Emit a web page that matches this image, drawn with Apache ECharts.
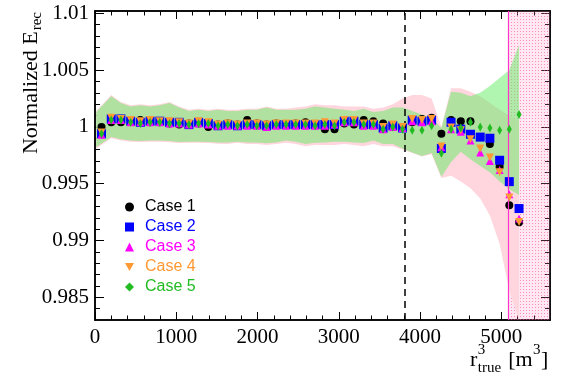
<!DOCTYPE html>
<html>
<head>
<meta charset="utf-8">
<script src="https://cdn.jsdelivr.net/npm/echarts@6/dist/echarts.min.js"></script>
<style>
  html, body { margin: 0; padding: 0; background: #fff; }
  #chart { width: 563px; height: 376px; }
</style>
</head>
<body>
<div id="chart"></div>
<script>
// r^3_true bin centres [m^3]
const xVals = [80, 200, 319, 439, 558, 678, 797, 917, 1036, 1156,
  1275, 1395, 1514, 1634, 1753, 1873, 1992, 2112, 2231, 2351,
  2470, 2590, 2709, 2829, 2948, 3068, 3187, 3307, 3426, 3546,
  3665, 3785, 3904, 4024, 4143, 4263, 4382, 4502, 4621, 4741,
  4860, 4980, 5099, 5219];

const case1 = [1.0000, 1.0004, 1.0004, 1.0006, 1.0006, 1.0004, 1.0004, 1.0003, 1.0002, 1.0003,
  1.0003, 1.0000, 1.0002, 1.0003, 1.0002, 1.0006, 1.0003, 1.0002, 1.0003, 1.0002,
  1.0003, 1.0004, 1.0002, 0.9998, 0.9998, 1.0003, 1.0002, 1.0006, 1.0005, 1.0003,
  1.0001, 1.0000, 1.0004, 1.0007, 1.0008, 0.9994, 1.0006, 1.0005, 1.0005, 0.9991,
  0.9985, 0.9965, 0.9931, 0.9916];
const case2 = [0.9994, 1.0007, 1.0007, 1.0005, 1.0004, 1.0005, 1.0005, 1.0004, 1.0004, 1.0002,
  1.0004, 1.0003, 1.0001, 1.0002, 1.0001, 1.0002, 1.0002, 1.0001, 1.0002, 1.0002,
  1.0002, 1.0002, 1.0002, 1.0002, 1.0002, 1.0005, 1.0005, 1.0002, 1.0002, 0.9999,
  1.0001, 0.9999, 1.0006, 1.0005, 1.0006, 0.9981, 1.0004, 0.9998, 0.99935, 0.9991,
  0.9990, 0.99706, 0.99518, 0.99281];
const case3 = [0.9993, 1.0006, 1.0006, 1.0004, 1.0004, 1.0004, 1.0004, 1.0003, 1.0003, 1.0002,
  1.0003, 1.0002, 1.0001, 1.0001, 1.0001, 1.0001, 1.0001, 1.0000, 1.0001, 1.0001,
  1.0001, 1.0001, 1.0001, 1.0001, 1.0002, 1.0004, 1.0004, 1.0001, 1.0001, 0.9998,
  1.0000, 0.9999, 1.0005, 1.0004, 1.0005, 0.9982, 0.9998, 0.99956, 0.9988, 0.99774,
  0.9970, 0.9962, 0.99407, 0.99193];
const case4 = [0.9995, 1.0008, 1.0007, 1.0006, 1.0005, 1.0006, 1.0005, 1.0005, 1.0004, 1.0003,
  1.0005, 1.0004, 1.0002, 1.0003, 1.0002, 1.0003, 1.0003, 1.0002, 1.0003, 1.0003,
  1.0003, 1.0003, 1.0003, 1.0004, 1.0003, 1.0006, 1.0006, 1.0003, 1.0003, 1.0000,
  1.0002, 1.0000, 1.0007, 1.0006, 1.0007, 0.99827, 0.99994, 0.9997, 0.9989, 0.9981,
  0.9973, 0.9960, 0.99378, 0.99163];
const case5 = [0.9994, 1.0006, 1.0006, 1.0004, 1.0003, 1.0004, 1.0004, 1.0003, 1.0003, 1.0002,
  1.0003, 1.0003, 1.0001, 1.0002, 1.0001, 1.0002, 1.0001, 1.0001, 1.0002, 1.0002,
  1.0002, 1.0002, 1.0001, 1.0002, 1.0001, 1.0004, 1.0004, 1.0002, 1.0002, 0.9998,
  1.0000, 0.9998, 0.9997, 0.9997, 1.0001, 0.99768, 0.9998, 0.9999, 1.0004, 1.0000,
  0.9999, 0.9997, 0.9998, 1.0011];

// uncertainty bands
const bandX = [15, 200, 319, 439, 558, 678, 797, 917, 1036, 1156,
  1275, 1395, 1514, 1634, 1753, 1873, 1992, 2112, 2231, 2351,
  2470, 2590, 2709, 2829, 2948, 3068, 3187, 3307, 3426, 3546,
  3665, 3785, 3904, 4024, 4143, 4263, 4382, 4502, 4621, 4741,
  4860, 4980, 5099, 5219];
const greenHi = [1.0013, 1.0027, 1.0021, 1.0018, 1.0019, 1.0018, 1.0019, 1.0021, 1.0017, 1.0014,
  1.0015, 1.0014, 1.0015, 1.0014, 1.0014, 1.0015, 1.0015, 1.0017, 1.0015, 1.0015,
  1.0015, 1.0016, 1.0018, 1.0017, 1.0016, 1.0015, 1.0014, 1.0016, 1.0013, 1.0014,
  1.0017, 1.0017, 1.0014, 1.0011, 1.0008, 0.9999, 1.0031, 1.0030, 1.0027, 1.0030,
  1.0036, 1.0043, 1.0050, 1.0072];
const greenLo = [0.9982, 0.9991, 0.9989, 0.9988, 0.99876, 0.9988, 0.9988, 0.99875, 0.99867, 0.9987,
  0.9987, 0.99867, 0.99862, 0.99862, 0.9987, 0.99862, 0.99862, 0.99855, 0.99862, 0.9988,
  0.9987, 0.9985, 0.9986, 0.99862, 0.9987, 0.9987, 0.99862, 0.99857, 0.9988, 0.9985,
  0.9985, 0.9981, 0.99774, 0.99744, 0.9977, 0.9956, 0.9969, 0.9978, 0.99715, 0.99656,
  0.9960, 0.9952, 0.9945, 0.9940];
const pinkHi = [1.0014, 1.0028, 1.0022, 1.0019, 1.0020, 1.0019, 1.0020, 1.0022, 1.0018, 1.0015,
  1.0016, 1.0015, 1.0016, 1.0015, 1.0015, 1.0016, 1.0016, 1.0018, 1.0016, 1.0016,
  1.0017, 1.0018, 1.0020, 1.0019, 1.0019, 1.0018, 1.0018, 1.0018, 1.0016, 1.0017,
  1.0020, 1.0025, 1.0028, 1.0028, 1.0025, 1.0000, 1.0034, 1.0034, 1.0031, 1.0027,
  1.0021, 1.0015, 1.0010, 1.0005];
const pinkLo = [0.9981, 0.9990, 0.9988, 0.9987, 0.99866, 0.9987, 0.9987, 0.99865, 0.99857, 0.9986,
  0.9986, 0.99857, 0.99852, 0.9985, 0.9986, 0.9985, 0.9985, 0.9984, 0.9985, 0.9986,
  0.9985, 0.9983, 0.9984, 0.9984, 0.9984, 0.9985, 0.9984, 0.9983, 0.9985, 0.9983,
  0.9983, 0.9980, 0.9977, 0.9974, 0.9976, 0.9955, 0.9957, 0.9952, 0.9946, 0.9937,
  0.9922, 0.9897, 0.9856, 0.9830];

const cutX = 3810;              // dashed line
const hatchFrom = 5090, hatchTo = 5600;

const names = ['Case 1', 'Case 2', 'Case 3', 'Case 4', 'Case 5'];
const colors = ['#000000', '#0000ff', '#ff00ff', '#ff9933', '#22bb22'];

const xMajor = [0, 1000, 2000, 3000, 4000, 5000];
const yMajor = [0.985, 0.99, 0.995, 1, 1.005, 1.01];
const xMinor = [];
for (let v = 200; v < 5600; v += 200) if (v % 1000) xMinor.push(v);
const yMinor = [];
for (let k = 984; k <= 1010; k++) if (k % 5) yMinor.push(k / 1000);

const serif = '"Liberation Serif", "Times New Roman", serif';

let chart = echarts.init(document.getElementById('chart'), null, { renderer: 'canvas' });

function zip(ys) {
  return xVals.map((x, i) => [x, ys[i]]);
}

function xAx(pos, ticks, len, labels) {
  return {
    type: 'value', position: pos, min: 0, max: 5600,
    axisLine: { show: true, onZero: false, lineStyle: { color: '#000', width: 1.5 } },
    axisTick: { show: true, inside: true, length: len, customValues: ticks, lineStyle: { color: '#000', width: 1 } },
    axisLabel: labels ? {
      show: true, customValues: ticks, margin: 7, color: '#000', fontFamily: serif, fontSize: 21,
      formatter: v => String(v)
    } : { show: false },
    splitLine: { show: false }
  };
}

function yAx(pos, ticks, len, labels) {
  return {
    type: 'value', position: pos, min: 0.983, max: 1.0102,
    axisLine: { show: true, onZero: false, lineStyle: { color: '#000', width: 1.5 } },
    axisTick: { show: true, inside: true, length: len, customValues: ticks, lineStyle: { color: '#000', width: 1 } },
    axisLabel: labels ? { show: true, customValues: ticks, margin: 6, color: '#000', fontFamily: serif, fontSize: 21 } : { show: false },
    splitLine: { show: false }
  };
}

function band(hi, lo, fill) {
  return {
    type: 'custom', silent: true, clip: true,
    data: [[bandX[0], hi[0]]],
    renderItem: function (params, api) {
      let pts = [];
      for (let i = 0; i < bandX.length; i++) pts.push(api.coord([bandX[i], hi[i]]));
      for (let i = bandX.length - 1; i >= 0; i--) pts.push(api.coord([bandX[i], lo[i]]));
      return { type: 'polygon', shape: { points: pts }, style: { fill: fill } };
    }
  };
}

// dotted pink fill for the excluded region
let pat = document.createElement('canvas');
pat.width = 3; pat.height = 3;
let pctx = pat.getContext('2d');
pctx.fillStyle = 'rgba(255,150,190,0.22)';
pctx.fillRect(0, 0, 3, 3);
pctx.fillStyle = 'rgba(255,70,150,0.55)';
pctx.fillRect(1, 1, 1, 1);

// text widths for the axis titles
let mctx = document.createElement('canvas').getContext('2d');
function textW(str, size) {
  mctx.font = size + 'px ' + serif;
  return mctx.measureText(str).width;
}
let wMain = textW('Normalized E', 22);
let wSub = textW('rec', 15);
let yTitleBottom = 12 + wMain + wSub + 1;

// x title pieces: r ^3 _true [m ^3 ]
let xr = 470;
let xs = xr + textW('r', 22) + 0.5;
let xb = xs + textW('true', 15) + 7;
let xs2 = xb + textW('[m', 22) + 0.5;
let xe = xs2 + textW('3', 15) + 0.5;

const marker = [
  { symbol: 'circle', symbolSize: 8 },
  { symbol: 'rect', symbolSize: 9 },
  { symbol: 'triangle', symbolSize: 8 },
  { symbol: 'triangle', symbolSize: 8, symbolRotate: 180 },
  { symbol: 'diamond', symbolSize: [5, 9] }
];
const legendIcons = ['circle', 'rect', 'triangle', 'path://M0,0 L10,0 L5,9 Z', 'diamond'];
const cases = [case1, case2, case3, case4, case5];

let option = {
  animation: false,
  grid: { left: 95, right: 13, top: 11, bottom: 56, containLabel: false },
  xAxis: [
    xAx('bottom', xMajor, 8, true),
    xAx('bottom', xMinor, 4.5, false),
    xAx('top', xMajor, 8, false),
    xAx('top', xMinor, 4.5, false)
  ],
  yAxis: [
    yAx('left', yMajor, 9, true),
    yAx('left', yMinor, 5, false),
    yAx('right', yMajor, 9, false),
    yAx('right', yMinor, 5, false)
  ],
  legend: {
    orient: 'vertical', left: 120, top: 194,
    itemWidth: 9, itemHeight: 9, itemGap: 4,
    textStyle: { fontFamily: '"Liberation Sans", Arial, sans-serif', fontSize: 16, padding: [0, 0, 0, 6] },
    data: names.map((n, i) => ({ name: n, icon: legendIcons[i], textStyle: { color: colors[i] } }))
  },
  graphic: [
    {
      type: 'group', x: 31, y: yTitleBottom, rotation: Math.PI / 2,
      children: [
        { type: 'text', x: 0, y: 0, style: { text: 'Normalized E', fontFamily: serif, fontSize: 22, fill: '#000', align: 'left', verticalAlign: 'middle' } },
        { type: 'text', x: wMain + 1, y: 6, style: { text: 'rec', fontFamily: serif, fontSize: 15, fill: '#000', align: 'left', verticalAlign: 'middle' } }
      ]
    },
    { type: 'text', x: xr, y: 360, style: { text: 'r', fontFamily: serif, fontSize: 22, fill: '#000', verticalAlign: 'middle' } },
    { type: 'text', x: xs, y: 350, style: { text: '3', fontFamily: serif, fontSize: 15, fill: '#000', verticalAlign: 'middle' } },
    { type: 'text', x: xs, y: 368, style: { text: 'true', fontFamily: serif, fontSize: 15, fill: '#000', verticalAlign: 'middle' } },
    { type: 'text', x: xb, y: 360, style: { text: '[m', fontFamily: serif, fontSize: 22, fill: '#000', verticalAlign: 'middle' } },
    { type: 'text', x: xs2, y: 350, style: { text: '3', fontFamily: serif, fontSize: 15, fill: '#000', verticalAlign: 'middle' } },
    { type: 'text', x: xe, y: 360, style: { text: ']', fontFamily: serif, fontSize: 22, fill: '#000', verticalAlign: 'middle' } }
  ],
  series: [
    band(pinkHi, pinkLo, '#ffd6de'),
    band(greenHi, greenLo, 'rgba(97,235,97,0.5)'),
    {
      type: 'line', data: [], silent: true,
      markArea: {
        silent: true,
        itemStyle: { color: { image: pat, repeat: 'repeat' } },
        data: [[{ xAxis: hatchFrom }, { xAxis: hatchTo }]]
      },
      markLine: {
        silent: true, symbol: 'none', label: { show: false },
        data: [
          { xAxis: cutX, lineStyle: { color: '#000', width: 1.5, type: [7, 5] } },
          { xAxis: hatchFrom, lineStyle: { color: '#ff33cc', width: 1.2, type: 'solid' } }
        ]
      }
    }
  ].concat(cases.map((ys, i) => Object.assign({
    name: names[i],
    type: 'scatter',
    data: zip(ys),
    itemStyle: { color: colors[i], opacity: 1 },
    z: 3 + i
  }, marker[i])))
};

chart.setOption(option);
</script>
</body>
</html>
